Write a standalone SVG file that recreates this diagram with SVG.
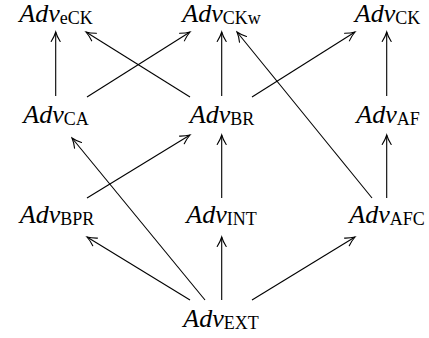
<svg xmlns="http://www.w3.org/2000/svg" width="429" height="338" viewBox="0 0 429 338">
<style>
text{text-anchor:middle}
.m{font-family:'Liberation Serif','Times New Roman',serif;font-style:italic;font-size:26px;fill:#000}
.s{font-family:'Liberation Serif','Times New Roman',serif;font-style:normal;font-size:18px;fill:#000}
.e{stroke:#000;stroke-width:1.1;fill:none;marker-end:url(#ah)}
</style>
<defs>
<marker id="ah" markerUnits="userSpaceOnUse" viewBox="-12 -7 14 14" refX="0" refY="0" markerWidth="14" markerHeight="14" orient="auto">
<path d="M -9.5,-4.5 Q -4.5,-1.3 0,0 Q -4.5,1.3 -9.5,4.5" fill="none" stroke="#000" stroke-width="1.1" stroke-linecap="round"/>
</marker>
</defs>
<rect width="429" height="338" fill="#fff"/>
<g id="connectors">
<line class="e" x1="55.7" y1="96" x2="55.7" y2="32"/>
<line class="e" x1="87" y1="97" x2="190" y2="32"/>
<line class="e" x1="190" y1="97" x2="86" y2="32"/>
<line class="e" x1="221.7" y1="96" x2="221.7" y2="32"/>
<line class="e" x1="252" y1="97" x2="355" y2="32"/>
<line class="e" x1="372" y1="198" x2="237" y2="32"/>
<line class="e" x1="386.7" y1="96" x2="386.7" y2="32"/>
<line class="e" x1="87" y1="198" x2="190" y2="135"/>
<line class="e" x1="221.7" y1="198" x2="221.7" y2="135"/>
<line class="e" x1="386.7" y1="198" x2="386.7" y2="135"/>
<line class="e" x1="190" y1="300" x2="87" y2="237"/>
<line class="e" x1="221.7" y1="300" x2="221.7" y2="237"/>
<line class="e" x1="252" y1="300" x2="355" y2="237"/>
<line class="e" x1="205" y1="300" x2="72" y2="138"/>
</g>
<g id="eCK"><text x="56" y="22"><tspan class="m">Adv</tspan><tspan class="s" dy="2">eCK</tspan></text></g>
<g id="CKw"><text x="221.5" y="22"><tspan class="m">Adv</tspan><tspan class="s" dy="2">CKw</tspan></text></g>
<g id="CK"><text x="387.5" y="22"><tspan class="m">Adv</tspan><tspan class="s" dy="2">CK</tspan></text></g>
<g id="CA"><text x="56" y="123"><tspan class="m">Adv</tspan><tspan class="s" dy="2">CA</tspan></text></g>
<g id="BR"><text x="222" y="123"><tspan class="m">Adv</tspan><tspan class="s" dy="2">BR</tspan></text></g>
<g id="AF"><text x="388" y="123"><tspan class="m">Adv</tspan><tspan class="s" dy="2">AF</tspan></text></g>
<g id="BPR"><text x="57" y="223"><tspan class="m">Adv</tspan><tspan class="s" dy="2">BPR</tspan></text></g>
<g id="INT"><text x="221.5" y="223"><tspan class="m">Adv</tspan><tspan class="s" dy="2">INT</tspan></text></g>
<g id="AFC"><text x="387" y="223"><tspan class="m">Adv</tspan><tspan class="s" dy="2">AFC</tspan></text></g>
<g id="EXT"><text x="221" y="327"><tspan class="m">Adv</tspan><tspan class="s" dy="2">EXT</tspan></text></g>
</svg>
